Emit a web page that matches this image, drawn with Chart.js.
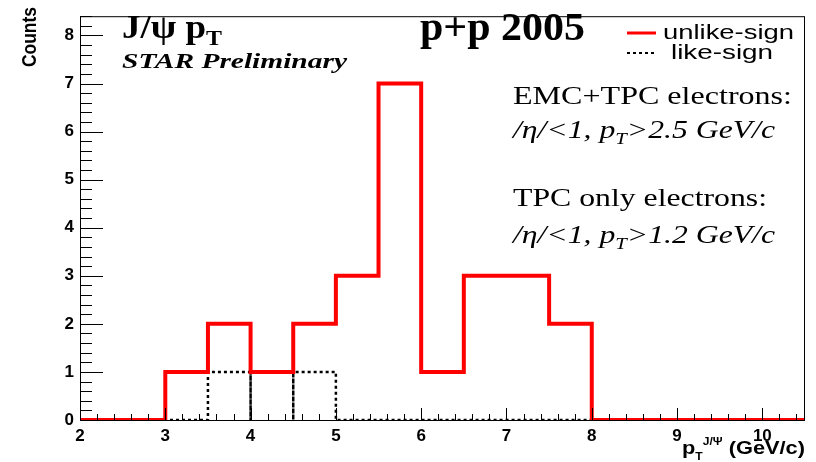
<!DOCTYPE html>
<html lang="en">
<head>
    <meta charset="UTF-8">
    <title>J/psi pT - STAR Preliminary</title>
    <script src="https://cdn.jsdelivr.net/npm/chart.js@4/dist/chart.umd.min.js"></script>
    <style>
        * { margin: 0; padding: 0; box-sizing: border-box; }
        body { background: white; }
        .wrap { width: 816px; height: 462px; }
    </style>
</head>
<body>
    <div class="wrap"><canvas id="histo" width="816" height="462"></canvas></div>

    <script>
        // bin edges (GeV/c), bin contents for 17 bins of 0.5 GeV/c
        const binEdges = [2, 2.5, 3, 3.5, 4, 4.5, 5, 5.5, 6, 6.5, 7, 7.5, 8, 8.5, 9, 9.5, 10, 10.5];
        const unlikeCounts = [0, 0, 1, 2, 1, 2, 3, 7, 1, 3, 3, 2, 0, 0, 0, 0, 0];
        const likeCounts   = [0, 0, 0, 1, 1, 1, 0, 0, 0, 0, 0, 0, 0, 0, 0, 0, 0];
        const xTicks = [2, 3, 4, 5, 6, 7, 8, 9, 10];
        const yTicks = [0, 1, 2, 3, 4, 5, 6, 7, 8];

        const SERIF = "'Liberation Serif', 'Times New Roman', serif";
        const SANS = "'Liberation Sans', Arial, sans-serif";

        // histogram outline as stepped line: the bin value is held until the next edge
        function toSteps(counts) {
            const pts = counts.map((c, i) => ({ x: binEdges[i], y: c }));
            pts.push({ x: binEdges[counts.length], y: counts[counts.length - 1] });
            return pts;
        }

        // histogram drawn bin by bin as open boxes (each bin closes down to zero)
        function toBoxes(counts) {
            const pts = [];
            counts.forEach((c, i) => {
                pts.push({ x: binEdges[i], y: 0 }, { x: binEdges[i], y: c },
                         { x: binEdges[i + 1], y: c }, { x: binEdges[i + 1], y: 0 });
            });
            return pts;
        }

        // draw a list of text runs, squeezed/stretched to a given width
        function drawRuns(ctx, runs, x, y, width) {
            let total = 0;
            runs.forEach(r => { ctx.font = r.f; r.w = ctx.measureText(r.t).width; total += r.w; });
            const sx = width ? width / total : 1;
            ctx.save();
            ctx.translate(x, y);
            ctx.scale(sx, 1);
            let cx = 0;
            runs.forEach(r => {
                ctx.font = r.f;
                ctx.fillText(r.t, cx, r.dy || 0);
                cx += r.w;
            });
            ctx.restore();
        }

        const rootFrame = {
            id: 'rootFrame',
            afterDraw(chart) {
                const { ctx, chartArea: a, scales: { x, y } } = chart;
                ctx.save();
                ctx.strokeStyle = '#000';
                ctx.lineWidth = 1;
                ctx.strokeRect(a.left + 0.5, a.top + 0.5, a.right - a.left - 1, a.bottom - a.top);

                // inward ticks, ROOT style
                ctx.beginPath();
                for (let k = 0; k <= 42; k++) {
                    const py = Math.round(y.getPixelForValue(k / 5)) + 0.5;
                    const len = k % 5 === 0 ? 23 : 12;
                    ctx.moveTo(a.left, py);
                    ctx.lineTo(a.left + len, py);
                }
                for (let k = 0; k <= 42; k++) {
                    const px = Math.round(x.getPixelForValue(2 + k / 5)) + 0.5;
                    const len = k % 5 === 0 ? 12 : 6;
                    ctx.moveTo(px, a.bottom);
                    ctx.lineTo(px, a.bottom - len);
                }
                ctx.stroke();

                ctx.fillStyle = '#000';
                ctx.textBaseline = 'alphabetic';
                ctx.textAlign = 'left';

                // titles
                drawRuns(ctx, [
                    { t: 'J/\u03c8 p', f: 'bold 34px ' + SERIF },
                    { t: 'T', f: 'bold 22px ' + SERIF, dy: 7 }
                ], 122, 38, 100);
                drawRuns(ctx, [{ t: 'STAR Preliminary', f: 'bold italic 20px ' + SERIF }], 122, 68, 225);
                drawRuns(ctx, [{ t: 'p+p 2005', f: 'bold 40px ' + SERIF }], 420, 40, 165);

                // legend
                ctx.strokeStyle = '#ff0000';
                ctx.lineWidth = 3;
                ctx.beginPath(); ctx.moveTo(627, 33); ctx.lineTo(656, 33); ctx.stroke();
                ctx.strokeStyle = '#000';
                ctx.lineWidth = 2;
                ctx.setLineDash([3, 3]);
                ctx.beginPath(); ctx.moveTo(627, 53); ctx.lineTo(656, 53); ctx.stroke();
                ctx.setLineDash([]);
                drawRuns(ctx, [{ t: 'unlike-sign', f: '20px ' + SANS }], 663, 39, 131);
                drawRuns(ctx, [{ t: 'like-sign', f: '20px ' + SANS }], 671, 59, 102);

                // selection cuts
                drawRuns(ctx, [{ t: 'EMC+TPC electrons:', f: '26px ' + SERIF }], 513, 104, 279);
                drawRuns(ctx, [
                    { t: '/\u03b7/<1, p', f: 'italic 26px ' + SERIF },
                    { t: 'T', f: 'italic 17px ' + SERIF, dy: 6 },
                    { t: '>2.5 GeV/c', f: 'italic 26px ' + SERIF }
                ], 513, 138, 262);
                drawRuns(ctx, [{ t: 'TPC only electrons:', f: '26px ' + SERIF }], 513, 206, 254);
                drawRuns(ctx, [
                    { t: '/\u03b7/<1, p', f: 'italic 26px ' + SERIF },
                    { t: 'T', f: 'italic 17px ' + SERIF, dy: 6 },
                    { t: '>1.2 GeV/c', f: 'italic 26px ' + SERIF }
                ], 513, 243, 262);

                // axis titles
                drawRuns(ctx, [
                    { t: 'p', f: 'bold 18px ' + SANS },
                    { t: 'T', f: 'bold 10px ' + SANS, dy: 6 },
                    { t: 'J/\u03a8', f: 'bold 10px ' + SANS, dy: -9 },
                    { t: ' (GeV/c)', f: 'bold 18px ' + SANS }
                ], 682, 454, 123);
                ctx.save();
                ctx.translate(36, 67);
                ctx.rotate(-Math.PI / 2);
                drawRuns(ctx, [{ t: 'Counts', f: 'bold 20px ' + SANS }], 0, 0, 60);
                ctx.restore();

                ctx.restore();
            }
        };

        new Chart(document.getElementById('histo'), {
            type: 'line',
            data: {
                datasets: [{
                    label: 'unlike-sign',
                    data: toSteps(unlikeCounts),
                    stepped: 'before',
                    borderColor: '#ff0000',
                    borderWidth: 4,
                    pointRadius: 0,
                    fill: false,
                    order: 0
                }, {
                    label: 'like-sign',
                    data: toBoxes(likeCounts),
                    borderColor: '#000000',
                    borderWidth: 2.5,
                    borderDash: [3, 3],
                    pointRadius: 0,
                    fill: false,
                    order: 1
                }]
            },
            options: {
                responsive: false,
                animation: false,
                layout: { padding: { left: 0, top: 7, right: 11, bottom: 0 } },
                plugins: {
                    legend: { display: false },
                    tooltip: { enabled: false }
                },
                scales: {
                    x: {
                        type: 'linear',
                        min: 2,
                        max: 10.5,
                        afterFit: s => { s.height = 42; },
                        afterBuildTicks: s => { s.ticks = xTicks.map(v => ({ value: v })); },
                        grid: { display: false, drawTicks: false },
                        border: { display: false },
                        ticks: {
                            color: '#000',
                            padding: 6,
                            maxRotation: 0,
                            font: { family: SANS, size: 17, weight: 'bold' }
                        }
                    },
                    y: {
                        min: 0,
                        max: 8.4,
                        afterFit: s => { s.width = 80; },
                        afterBuildTicks: s => { s.ticks = yTicks.map(v => ({ value: v })); },
                        grid: { display: false, drawTicks: false },
                        border: { display: false },
                        ticks: {
                            color: '#000',
                            padding: 6,
                            font: { family: SANS, size: 17, weight: 'bold' }
                        }
                    }
                }
            },
            plugins: [rootFrame]
        });
    </script>
</body>
</html>
